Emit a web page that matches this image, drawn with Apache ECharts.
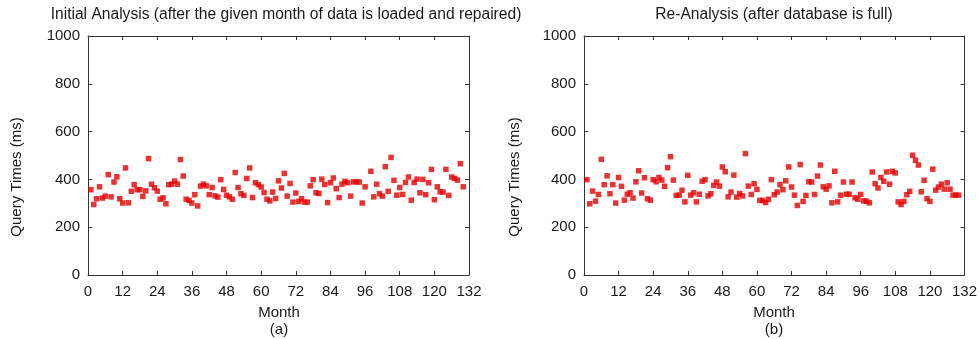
<!DOCTYPE html>
<html>
<head>
<meta charset="utf-8">
<script src="https://cdn.jsdelivr.net/npm/echarts@6/dist/echarts.min.js"></script>
<style>
html,body{margin:0;padding:0;background:#fff;}
#chart{width:980px;height:339px;}
</style>
</head>
<body>
<div id="chart"></div>
<script>
// ---- Data ----
var xTicks = [0, 12, 24, 36, 48, 60, 72, 84, 96, 108, 120, 132];
var yTicks = [0, 200, 400, 600, 800, 1000];

var initialMonths = [
  1,2,3,4,5,6,7,8,9,10,11,12,13,14,15,16,17,18,19,20,
  21,22,23,24,25,26,27,28,29,30,31,32,33,34,35,36,37,38,39,40,
  41,42,43,44,45,46,47,48,49,50,51,52,53,54,55,56,57,58,59,60,
  61,62,63,64,65,66,67,68,69,70,71,72,73,74,75,76,77,78,79,80,
  81,82,83,84,85,86,87,88,89,90,91,92,93,94,95,96,
  98,99,100,101,102,103,104,105,106,107,108,109,110,111,112,113,114,115,116,117,
  118,119,120,121,122,123,124,125,126,127,128,129,130
];
var initialTimes = [
  357,295,319,369,322,330,420,327,389,411,319,301,448,302,350,378,357,357,329,352,
  487,380,365,351,317,323,298,378,380,393,380,483,414,317,312,301,336,289,372,380,
  373,336,366,331,326,399,358,334,327,317,429,366,340,333,404,448,324,386,378,368,
  345,317,310,347,320,394,364,425,330,383,305,343,308,319,305,305,373,399,344,341,
  401,379,303,386,406,361,324,380,392,386,330,390,389,389,301,369,
  434,327,380,340,330,453,350,492,396,334,366,337,387,410,313,387,401,344,400,336,
  386,442,315,369,348,347,442,333,410,404,397,466,369
];

var reMonths = [
  1,2,3,4,5,6,7,8,9,10,11,12,13,14,15,16,17,18,19,20,
  21,22,23,24,25,26,27,28,29,30,31,32,33,34,35,36,37,38,39,40,
  41,42,43,44,45,46,47,48,49,50,51,52,53,54,55,56,57,58,59,60,
  61,62,63,64,65,66,67,68,69,70,71,72,73,74,75,76,77,78,79,80,
  81,82,83,84,85,86,87,88,89,90,91,92,93,94,95,96,97,98,99,100,
  101,102,103,104,105,106,107,108,109,110,111,112,113,114,115,116,117,118,119,120,
  121,122,123,124,125,126,127,128,129,130
];
var reTimes = [
  399,298,351,309,337,484,378,415,340,378,301,408,371,313,338,344,322,390,436,343,
  407,319,313,399,390,408,397,371,449,495,397,333,334,355,306,417,334,344,306,338,
  392,399,331,340,375,389,372,452,432,327,347,418,326,341,331,508,372,337,382,358,
  312,312,303,317,399,336,347,378,357,394,452,368,334,291,462,308,333,390,389,337,
  414,460,369,359,373,302,434,306,334,389,338,338,389,323,317,337,310,309,302,431,
  382,364,408,392,431,380,434,427,306,295,308,336,350,501,480,460,348,396,319,308,
  443,355,368,380,359,386,359,334,334,334
];

var titles = [
  'Initial Analysis (after the given month of data is loaded and repaired)',
  'Re-Analysis (after database is full)'
];
var xName = 'Month';
var yName = 'Query Times (ms)';
var panelTags = ['(a)', '(b)'];

function pairs(xs, ys) {
  var out = [];
  for (var i = 0; i < xs.length; i++) out.push([xs[i], ys[i]]);
  return out;
}

// ---- Chart ----
var FONT = 'Liberation Sans, Arial, Helvetica, sans-serif';
var TXT = '#1a1a1a';
var LINE = '#333';
var chart = echarts.init(document.getElementById('chart'), null, {renderer: 'canvas'});

var grids = [
  {left: 88, right: 511, top: 36, bottom: 64},
  {left: 584, right: 15, top: 36, bottom: 64}
];

var xAxes = [], yAxes = [];
for (var g = 0; g < 2; g++) {
  ['bottom', 'top'].forEach(function (pos) {
    xAxes.push({
      type: 'value', gridIndex: g, position: pos,
      min: xTicks[0], max: xTicks[xTicks.length - 1], interval: 12,
      axisLine: {show: true, onZero: false, lineStyle: {color: LINE, width: 1}},
      axisTick: {show: true, inside: true, length: 4, lineStyle: {color: LINE}},
      axisLabel: {show: pos === 'bottom', color: TXT, fontFamily: FONT, fontSize: 15, margin: 9,
        formatter: function (v) { return String(v); }},
      splitLine: {show: false}
    });
  });
  ['left', 'right'].forEach(function (pos) {
    yAxes.push({
      type: 'value', gridIndex: g, position: pos,
      min: yTicks[0], max: yTicks[yTicks.length - 1], interval: 200,
      axisLine: {show: true, onZero: false, lineStyle: {color: LINE, width: 1}},
      axisTick: {show: true, inside: true, length: 4, lineStyle: {color: LINE}},
      axisLabel: {show: pos === 'left', color: TXT, fontFamily: FONT, fontSize: 15, margin: 8,
        formatter: function (v) { return String(v); }},
      splitLine: {show: false}
    });
  });
}

function scatter(g, data) {
  return {
    type: 'scatter', xAxisIndex: g * 2, yAxisIndex: g * 2,
    data: data, symbol: 'rect', symbolSize: 5.5,
    itemStyle: {color: '#e30000'}, animation: false
  };
}

function txt(x, y, s, rot, size) {
  var e = {type: 'text', x: x, y: y, style: {
    text: s, fill: TXT, font: (size || 15) + 'px ' + FONT,
    textAlign: 'center', textVerticalAlign: 'middle'}};
  if (rot) e.rotation = Math.PI / 2;
  return e;
}

chart.setOption({
  animation: false,
  backgroundColor: '#fff',
  grid: grids,
  xAxis: xAxes,
  yAxis: yAxes,
  series: [scatter(0, pairs(initialMonths, initialTimes)), scatter(1, pairs(reMonths, reTimes))],
  graphic: [
    txt(286, 15, titles[0], false, 15.6),
    txt(774, 15, titles[1], false, 15.6),
    txt(17, 177, yName, true),
    txt(515, 177, yName, true),
    txt(279, 313, xName),
    txt(279, 330, panelTags[0]),
    txt(774, 313, xName),
    txt(774, 330, panelTags[1])
  ]
});
</script>
</body>
</html>
